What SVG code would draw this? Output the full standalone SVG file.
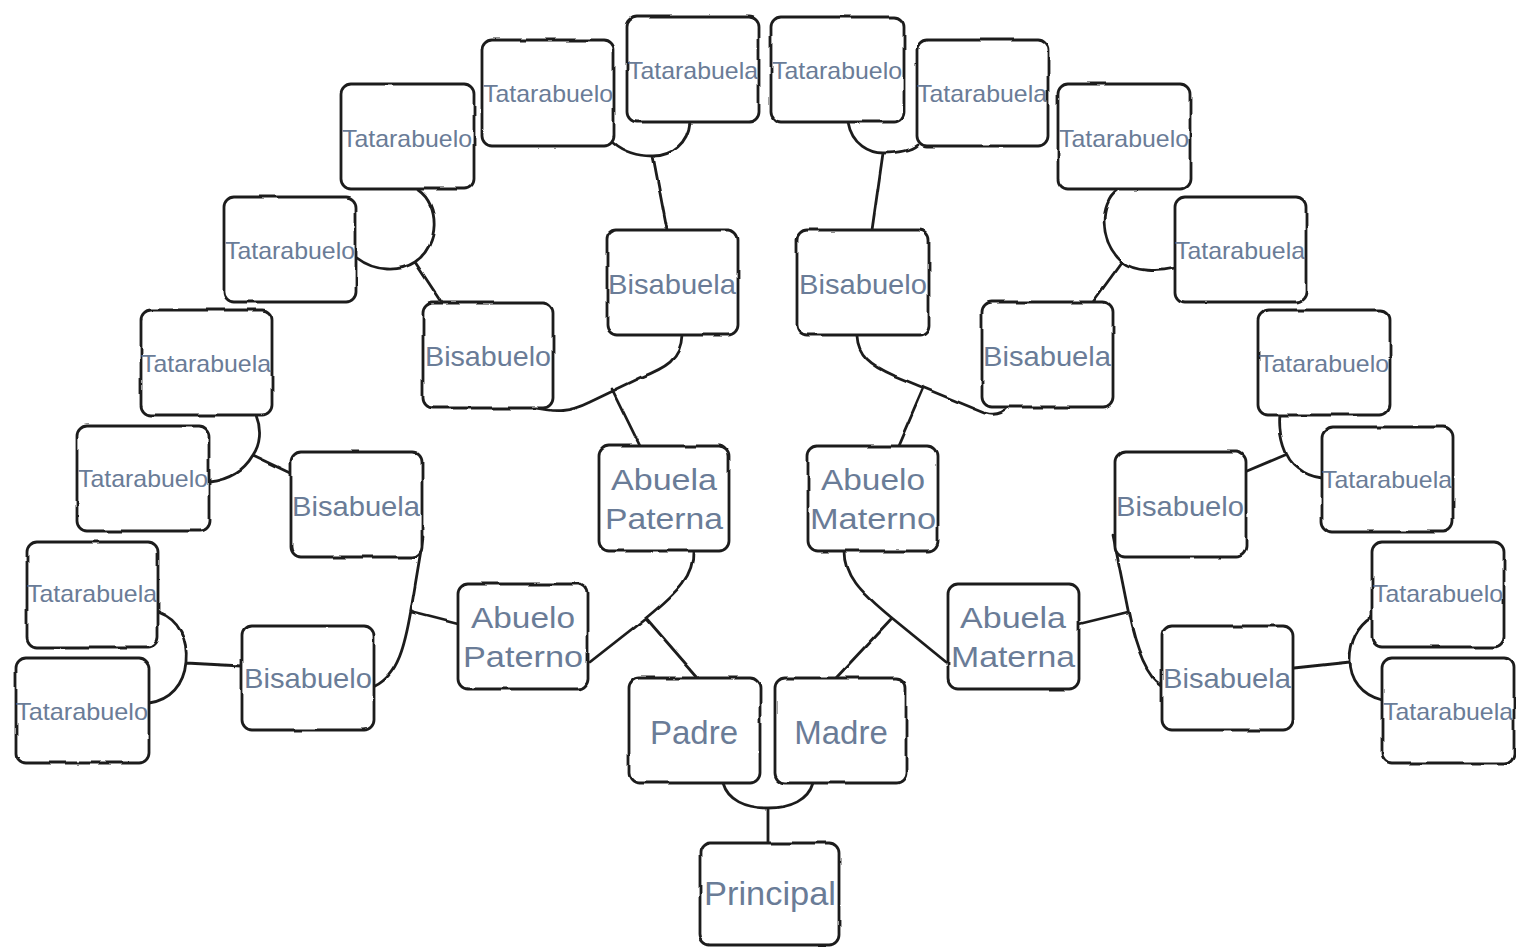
<svg xmlns="http://www.w3.org/2000/svg" width="1516" height="947" viewBox="0 0 1516 947">
<defs>
<filter id="rough" x="-5%" y="-5%" width="110%" height="110%">
<feTurbulence type="fractalNoise" baseFrequency="0.035" numOctaves="2" seed="3" result="n"/>
<feDisplacementMap in="SourceGraphic" in2="n" scale="3" xChannelSelector="R" yChannelSelector="G"/>
</filter>
<style>
.box{fill:#ffffff;stroke:#1e1e1e;stroke-width:2.8;filter:url(#rough)}
.con{fill:none;stroke:#1e1e1e;stroke-width:2.8;stroke-linecap:round;filter:url(#rough)}
text{font-family:"Liberation Sans",Arial,sans-serif;fill:#6a7c97;text-anchor:middle;dominant-baseline:central}
.t4{font-size:24px}
.t3{font-size:28px}
.t2{font-size:30px}
.t1{font-size:33px}
</style>
</defs>
<rect width="1516" height="947" fill="#ffffff"/>
<g id="connectors">
<path class="con" d="M723 783 C728 800 745 808 768 808 C791 808 808 800 813 783 M768 808 L768 843"/>
<path class="con" d="M693 551 C694 575 680 590 646 618 L590 662 M646 618 L698 678"/>
<path class="con" d="M845 551 C845 575 858 590 892 618 L946 662 M892 618 L836 678"/>
<path class="con" d="M682 335 C681 360 665 368 640 378 L590 402 C570 412 555 413 533 407 M612 389 L640 446"/>
<path class="con" d="M857 336 C858 355 870 365 895 376 L985 413 C995 416 1003 413 1008 407 M923 388 L898 446"/>
<path class="con" d="M423 538 L411 610 C405 645 398 675 375 686 M411 612 L458 624"/>
<path class="con" d="M1113 535 L1128 610 C1135 645 1145 675 1162 685 M1128 612 L1079 624"/>
<path class="con" d="M158 612 C180 620 188 640 186 662 C184 685 170 700 149 703 M186 663 L242 666"/>
<path class="con" d="M256 415 C262 430 260 445 253 455 C243 472 228 480 209 482 M253 455 L291 473"/>
<path class="con" d="M418 190 C440 205 440 245 415 262 C400 272 375 272 357 258 M415 262 L442 303"/>
<path class="con" d="M613 143 C625 153 640 156 653 156 C672 156 688 143 690 122 M653 156 L667 230"/>
<path class="con" d="M848 122 C852 145 870 153 883 153 C900 153 912 150 918 145 M883 153 L872 230"/>
<path class="con" d="M1117 190 C1100 202 1098 240 1122 262 C1135 272 1158 272 1175 268 M1122 262 L1093 302"/>
<path class="con" d="M1280 414 C1278 435 1285 460 1298 468 C1305 474 1313 477 1322 478 M1285 455 L1247 471"/>
<path class="con" d="M1372 617 C1355 628 1350 645 1350 660 C1350 680 1362 695 1382 700 M1350 662 L1294 668"/>
</g>
<g id="principal"><rect class="box" x="700" y="843" width="139" height="102" rx="10"/><text class="t1" x="770" y="893" textLength="132" lengthAdjust="spacingAndGlyphs">Principal</text></g>
<g id="padre"><rect class="box" x="629" y="678" width="131" height="105" rx="10"/><text class="t1" x="694" y="732">Padre</text></g>
<g id="madre"><rect class="box" x="775" y="678" width="131" height="105" rx="10"/><text class="t1" x="841" y="732">Madre</text></g>
<g id="abuelo-paterno"><rect class="box" x="458" y="584" width="130" height="105" rx="10"/><text class="t2" x="523" y="617" textLength="104" lengthAdjust="spacingAndGlyphs">Abuelo</text><text class="t2" x="523" y="656" textLength="120" lengthAdjust="spacingAndGlyphs">Paterno</text></g>
<g id="abuela-paterna"><rect class="box" x="599" y="446" width="130" height="105" rx="10"/><text class="t2" x="664" y="479" textLength="106" lengthAdjust="spacingAndGlyphs">Abuela</text><text class="t2" x="664" y="518" textLength="118" lengthAdjust="spacingAndGlyphs">Paterna</text></g>
<g id="abuelo-materno"><rect class="box" x="808" y="446" width="130" height="105" rx="10"/><text class="t2" x="873" y="479" textLength="104" lengthAdjust="spacingAndGlyphs">Abuelo</text><text class="t2" x="873" y="518" textLength="126" lengthAdjust="spacingAndGlyphs">Materno</text></g>
<g id="abuela-materna"><rect class="box" x="948" y="584" width="131" height="105" rx="10"/><text class="t2" x="1013" y="617" textLength="106" lengthAdjust="spacingAndGlyphs">Abuela</text><text class="t2" x="1013" y="656" textLength="124" lengthAdjust="spacingAndGlyphs">Materna</text></g>
<g id="bisabuelo-1"><rect class="box" x="242" y="626" width="132" height="104" rx="10"/><text class="t3" x="308" y="678" textLength="128" lengthAdjust="spacingAndGlyphs">Bisabuelo</text></g>
<g id="bisabuela-2"><rect class="box" x="291" y="452" width="131" height="105" rx="10"/><text class="t3" x="356" y="506" textLength="128" lengthAdjust="spacingAndGlyphs">Bisabuela</text></g>
<g id="bisabuelo-3"><rect class="box" x="423" y="303" width="130" height="105" rx="10"/><text class="t3" x="488" y="356" textLength="126" lengthAdjust="spacingAndGlyphs">Bisabuelo</text></g>
<g id="bisabuela-4"><rect class="box" x="607" y="230" width="131" height="105" rx="10"/><text class="t3" x="672" y="284" textLength="128" lengthAdjust="spacingAndGlyphs">Bisabuela</text></g>
<g id="bisabuelo-5"><rect class="box" x="797" y="230" width="132" height="105" rx="10"/><text class="t3" x="863" y="284" textLength="128" lengthAdjust="spacingAndGlyphs">Bisabuelo</text></g>
<g id="bisabuela-6"><rect class="box" x="982" y="302" width="131" height="105" rx="10"/><text class="t3" x="1047" y="356" textLength="128" lengthAdjust="spacingAndGlyphs">Bisabuela</text></g>
<g id="bisabuelo-7"><rect class="box" x="1115" y="452" width="131" height="105" rx="10"/><text class="t3" x="1180" y="506" textLength="128" lengthAdjust="spacingAndGlyphs">Bisabuelo</text></g>
<g id="bisabuela-8"><rect class="box" x="1162" y="626" width="131" height="104" rx="10"/><text class="t3" x="1227" y="678" textLength="128" lengthAdjust="spacingAndGlyphs">Bisabuela</text></g>
<g id="tatarabuelo-1"><rect class="box" x="16" y="658" width="133" height="105" rx="10"/><text class="t4" x="82" y="711" textLength="132" lengthAdjust="spacingAndGlyphs">Tatarabuelo</text></g>
<g id="tatarabuela-2"><rect class="box" x="27" y="542" width="131" height="105" rx="10"/><text class="t4" x="92" y="593" textLength="130" lengthAdjust="spacingAndGlyphs">Tatarabuela</text></g>
<g id="tatarabuelo-3"><rect class="box" x="77" y="426" width="132" height="105" rx="10"/><text class="t4" x="143" y="478" textLength="130" lengthAdjust="spacingAndGlyphs">Tatarabuelo</text></g>
<g id="tatarabuela-4"><rect class="box" x="141" y="310" width="131" height="105" rx="10"/><text class="t4" x="206" y="363" textLength="130" lengthAdjust="spacingAndGlyphs">Tatarabuela</text></g>
<g id="tatarabuelo-5"><rect class="box" x="224" y="197" width="132" height="105" rx="10"/><text class="t4" x="290" y="250" textLength="130" lengthAdjust="spacingAndGlyphs">Tatarabuelo</text></g>
<g id="tatarabuelo-6"><rect class="box" x="341" y="84" width="133" height="105" rx="10"/><text class="t4" x="407" y="138" textLength="130" lengthAdjust="spacingAndGlyphs">Tatarabuelo</text></g>
<g id="tatarabuelo-7"><rect class="box" x="482" y="40" width="132" height="106" rx="10"/><text class="t4" x="548" y="93" textLength="130" lengthAdjust="spacingAndGlyphs">Tatarabuelo</text></g>
<g id="tatarabuela-8"><rect class="box" x="627" y="17" width="132" height="105" rx="10"/><text class="t4" x="693" y="70" textLength="130" lengthAdjust="spacingAndGlyphs">Tatarabuela</text></g>
<g id="tatarabuelo-9"><rect class="box" x="771" y="17" width="133" height="105" rx="10"/><text class="t4" x="837" y="70" textLength="130" lengthAdjust="spacingAndGlyphs">Tatarabuelo</text></g>
<g id="tatarabuela-10"><rect class="box" x="917" y="40" width="131" height="106" rx="10"/><text class="t4" x="982" y="93" textLength="130" lengthAdjust="spacingAndGlyphs">Tatarabuela</text></g>
<g id="tatarabuelo-11"><rect class="box" x="1058" y="84" width="132" height="105" rx="10"/><text class="t4" x="1124" y="138" textLength="130" lengthAdjust="spacingAndGlyphs">Tatarabuelo</text></g>
<g id="tatarabuela-12"><rect class="box" x="1175" y="197" width="131" height="105" rx="10"/><text class="t4" x="1240" y="250" textLength="130" lengthAdjust="spacingAndGlyphs">Tatarabuela</text></g>
<g id="tatarabuelo-13"><rect class="box" x="1258" y="310" width="132" height="105" rx="10"/><text class="t4" x="1324" y="363" textLength="130" lengthAdjust="spacingAndGlyphs">Tatarabuelo</text></g>
<g id="tatarabuela-14"><rect class="box" x="1322" y="427" width="131" height="105" rx="10"/><text class="t4" x="1387" y="479" textLength="130" lengthAdjust="spacingAndGlyphs">Tatarabuela</text></g>
<g id="tatarabuelo-15"><rect class="box" x="1372" y="542" width="132" height="105" rx="10"/><text class="t4" x="1438" y="593" textLength="130" lengthAdjust="spacingAndGlyphs">Tatarabuelo</text></g>
<g id="tatarabuela-16"><rect class="box" x="1382" y="658" width="132" height="105" rx="10"/><text class="t4" x="1448" y="711" textLength="130" lengthAdjust="spacingAndGlyphs">Tatarabuela</text></g>
</svg>
